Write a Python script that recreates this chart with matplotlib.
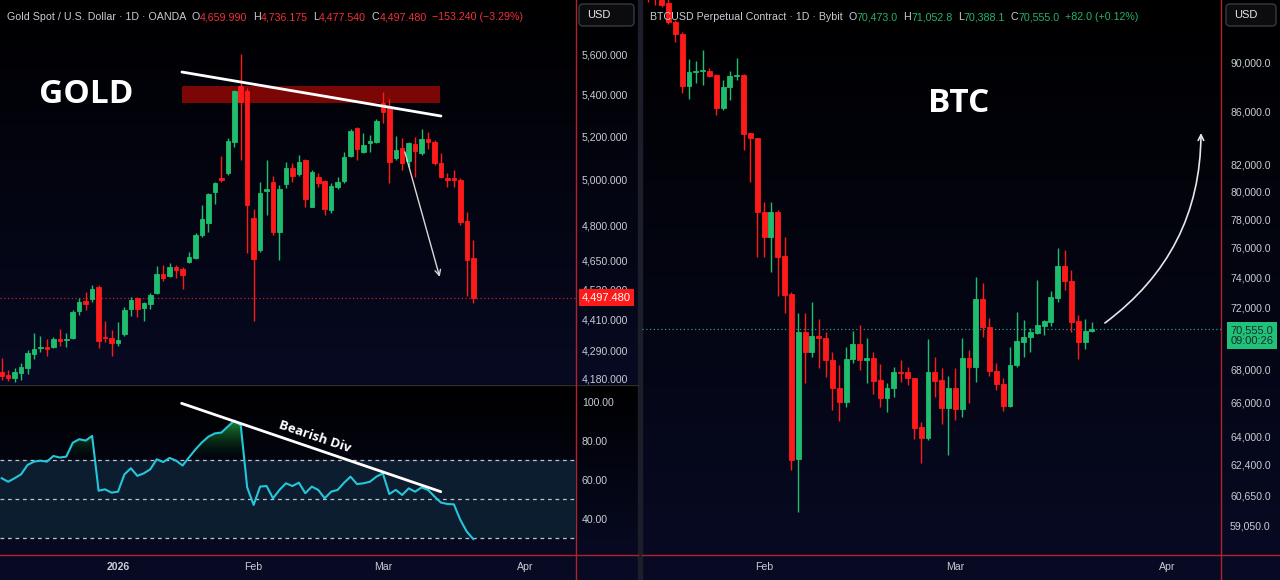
import numpy as np
import matplotlib.pyplot as plt
from matplotlib.colors import to_rgb, LinearSegmentedColormap
from matplotlib.patches import Rectangle, FancyBboxPatch
from matplotlib.path import Path
from matplotlib.transforms import blended_transform_factory
from matplotlib.ticker import NullLocator

plt.rcParams['font.family'] = ['Liberation Sans', 'DejaVu Sans']

# ---------------- data ----------------
# gold, daily bars (weekdays), index 0 = first visible bar
gold_open = [4205, 4194, 4185, 4204, 4223, 4276, 4298, 4303, 4300, 4334,
             4330, 4336, 4444, 4484, 4493, 4540, 4342, 4338, 4319, 4351,
             4451, 4495, 4456, 4471, 4517, 4594, 4586, 4622, 4616, 4642,
             4662, 4757, 4810, 4947, 5010, 5030, 5175, 5440, 5416, 4831,
             4694, 4952, 4990, 4773, 4982, 5053, 5027, 5091, 4881, 5015,
             4996, 4866, 4967, 4996, 5109, 5238, 5129, 5171, 5175, 5360,
             5341, 5099, 5148, 5088, 5165, 5122, 5186, 5174, 5076, 5010,
             5010, 5000, 4820, 4659.99]
gold_high = [4259, 4214, 4220, 4239, 4290, 4356, 4346, 4332, 4340, 4372,
             4355, 4448, 4495, 4521, 4549, 4549, 4405, 4368, 4399, 4461,
             4501, 4501, 4481, 4515, 4627, 4632, 4638, 4632, 4622, 4687,
             4766, 4889, 4940, 4990, 5111, 5191, 5421, 5600, 5431, 4873,
             4992, 5091, 5018, 4977, 5083, 5076, 5114, 5094, 5045, 5030,
             5000, 4985, 5015, 5129, 5236, 5246, 5215, 5207, 5282, 5413,
             5376, 5202, 5194, 5175, 5196, 5234, 5222, 5183, 5122, 5033,
             5045, 5008, 4859, 4736.175]
gold_low = [4176, 4172, 4169, 4176, 4199, 4255, 4283, 4268, 4297, 4307,
            4303, 4332, 4428, 4447, 4481, 4297, 4320, 4268, 4306, 4346,
            4425, 4421, 4405, 4452, 4512, 4565, 4583, 4576, 4532, 4638,
            4657, 4749, 4773, 4895, 4992, 5023, 5152, 5091, 4680, 4402,
            4687, 4845, 4759, 4652, 4963, 4992, 5018, 4881, 4878, 4967,
            4845, 4852, 4958, 4985, 5106, 5091, 5122, 5129, 5168, 5261,
            4987, 5091, 5045, 5060, 5015, 5114, 5142, 5068, 5008, 4967,
            4970, 4802, 4502, 4477.54]
gold_close = [4191, 4184, 4205, 4224, 4277, 4294, 4302, 4295, 4333, 4326,
              4334, 4440, 4480, 4473, 4531, 4325, 4336, 4319, 4329, 4447,
              4489, 4451, 4475, 4507, 4594, 4579, 4625, 4612, 4591, 4666,
              4760, 4827, 4936, 4985, 5000, 5180, 5416, 5365, 4888, 4655,
              4943, 4959, 4773, 4959, 5053, 5018, 5080, 4915, 5037, 4988,
              4869, 4973, 4991, 5103, 5227, 5140, 5162, 5180, 5274, 5317,
              5083, 5137, 5076, 5168, 5132, 5186, 5172, 5076, 5012, 5000,
              5000, 4813, 4650.72, 4497.48]
gold_rsi = [60.9, 59.1, 60.9, 62.9, 67.7, 69.4, 69.9, 69.4, 72.3, 71.5,
            72.0, 79.1, 80.9, 80.2, 82.6, 54.5, 55.2, 53.5, 54.0, 62.9,
            66.0, 62.1, 63.4, 65.5, 70.6, 69.2, 71.3, 69.9, 67.4, 71.6,
            75.7, 79.3, 82.2, 83.9, 84.3, 87.4, 90.4, 88.2, 56.2, 47.2,
            56.6, 56.9, 50.6, 54.9, 58.3, 56.9, 58.6, 53.2, 56.6, 54.9,
            50.6, 54.0, 54.9, 58.6, 61.7, 57.9, 58.3, 59.1, 61.7, 63.4,
            52.8, 54.9, 52.3, 55.7, 54.0, 56.2, 54.9, 51.5, 48.4, 47.7,
            47.5, 39.5, 33.5, 29.7]
gold_ticks = [5600, 5400, 5200, 5000, 4800, 4650, 4530, 4410, 4290, 4180]
rsi_ticks = [100, 80, 60, 40]
gold_month_labels = ['2026', 'Feb', 'Mar', 'Apr']
gold_month_pos = [18, 39, 59, 81]

# BTC perpetual, daily bars, index 0 = first visible bar
btc_open = [97500, 96000, 95500, 95000, 93363, 92300, 88055, 89185, 89240, 89290,
            88915, 86330, 88000, 88835, 88965, 84340, 83960, 78540, 76730, 78540,
            75440, 72850, 62690, 70410, 69140, 70136, 69990, 68617, 66890, 66064,
            68660, 69630, 68617, 68760, 67379, 66303, 66870, 67890, 67850, 67480,
            64540, 63930, 67850, 67379, 65700, 66910, 65605, 68720, 68160, 72540,
            70735, 67950, 67110, 65805, 68306, 69775, 70055, 70330, 70780, 71055,
            72630, 74770, 73760, 71100, 69770, 70473.0]
btc_high = [98500, 96500, 95800, 95300, 93507, 92518, 90220, 90106, 90988, 89485,
            89020, 88538, 89265, 90300, 89050, 84390, 84010, 79250, 79250, 78660,
            76770, 73010, 71600, 71600, 72340, 71210, 70410, 69140, 68306, 69460,
            70460, 70840, 69990, 69100, 68370, 67178, 68160, 68617, 68160, 67520,
            64870, 69927, 68787, 68100, 67625, 68100, 69990, 69250, 74030, 73570,
            71280, 68410, 67480, 69460, 71665, 71166, 70630, 73804, 71166, 73070,
            75950, 75860, 74478, 71490, 71210, 71052.8]
btc_low = [95050, 94790, 94600, 93168, 91680, 87520, 86995, 88270, 88140, 88755,
           85760, 86152, 86940, 88538, 83072, 80710, 75372, 75372, 74350, 72750,
           71600, 62081, 59770, 67178, 68787, 68100, 67585, 65565, 64930, 65725,
           68410, 67996, 67178, 66527, 65725, 65430, 66365, 67275, 67070, 63840,
           62479, 63799, 66365, 64735, 62935, 64971, 65165, 66000, 67275, 70055,
           67625, 66769, 65505, 65725, 68200, 68830, 69150, 70250, 70200, 70780,
           72340, 73135, 70410, 68660, 69295, 70388.1]
btc_close = [96000, 95500, 94790, 93363, 92300, 88055, 89210, 89290, 89347, 88860,
             86285, 88000, 88880, 88965, 84290, 83960, 78490, 76730, 78540, 75390,
             72780, 62649, 70410, 69140, 70136, 69990, 68617, 66870, 66064, 68680,
             69630, 68617, 68720, 67335, 66303, 66910, 67890, 67790, 67480, 64517,
             63930, 67850, 67335, 65700, 66910, 65605, 68720, 68160, 72540, 70695,
             67950, 67110, 65805, 68306, 69820, 70095, 70410, 70840, 71120, 72670,
             74770, 73760, 71055, 69770, 70473.0, 70555.0]
btc_ticks = [90000, 86000, 82000, 80000, 78000, 76000, 74000, 72000,
             68000, 66000, 64000, 62400, 60650, 59050]
btc_month_labels = ['Feb', 'Mar', 'Apr']
btc_month_pos = [17, 45, 76]
btc_timer = '09:00:26'

# ---------------- style ----------------
GREEN = '#1ebe6e'
RED = '#ff1a1a'
TXT = '#c9ccd4'
HDR_RED = '#f0303a'
HDR_GREEN = '#26b36b'
NAVY = '#070a22'
SEP_RED = '#b0232c'
GRID = '#2a2e39'
FS = 7.6     # axis labels
FS_H = 7.7   # header line

W, H = 1280, 580
fig = plt.figure(figsize=(12.8, 5.8), dpi=100, facecolor='black')


def rect(x0, y0, x1, y1):
    return [x0 / W, 1 - y1 / H, (x1 - x0) / W, (y1 - y0) / H]


# background layer in pixel coordinates
ax_bg = fig.add_axes([0, 0, 1, 1])
ax_bg.axis('off')


def vgrad(x0, x1, y0, y1, c_top, c_bot):
    cols = np.linspace(to_rgb(c_top), to_rgb(c_bot), 256)[:, None, :]
    ax_bg.imshow(cols, extent=[x0, x1, y1, y0], aspect='auto',
                 interpolation='bilinear', zorder=0)


vgrad(0, 638, 0, 384, '#000000', NAVY)
vgrad(0, 638, 385, 554, '#000000', NAVY)
vgrad(642, 1280, 0, 554, '#000000', NAVY)
ax_bg.add_patch(Rectangle((0, 554), 638, 26, color=NAVY, zorder=0))
ax_bg.add_patch(Rectangle((642, 554), 638, 26, color=NAVY, zorder=0))
ax_bg.add_patch(Rectangle((638, 0), 4, 580, color='#1c1f29', zorder=1))
ax_bg.plot([0, 638], [384.5, 384.5], color=GRID, lw=1, zorder=2)
for xs in ([0, 638], [642, 1280]):
    ax_bg.plot(xs, [554.5, 554.5], color=SEP_RED, lw=1, zorder=2)
ax_bg.plot([575.5, 575.5], [0, 580], color=SEP_RED, lw=1, zorder=2)
ax_bg.plot([1221, 1221], [0, 580], color=SEP_RED, lw=1, zorder=2)
for bx, bw in ((579, 55), (1226, 50)):
    ax_bg.add_patch(FancyBboxPatch((bx, 4), bw, 22, boxstyle='round,pad=0,rounding_size=4',
                                   fc='#0c0c0f', ec='#363a45', lw=1, zorder=3))
    ax_bg.text(bx + 8, 15.5, 'USD', color='#e6e8ee', fontsize=FS + 0.4, va='center',
               ha='left', zorder=4)
ax_bg.set_xlim(0, W)
ax_bg.set_ylim(H, 0)


def candles(ax, o, h, l, c, width):
    o, h, l, c = (np.asarray(a, float) for a in (o, h, l, c))
    x = np.arange(len(o))
    col = np.where(c >= o, GREEN, RED)
    ax.vlines(x, l, h, colors=col, lw=1, zorder=3)
    ax.bar(x, c - o, bottom=o, width=width, color=col, edgecolor=col, lw=0.6, zorder=4)


def style_axes(ax):
    ax.patch.set_visible(False)
    for s in ax.spines.values():
        s.set_visible(False)
    ax.yaxis.tick_right()
    ax.yaxis.set_minor_locator(NullLocator())
    ax.tick_params(axis='both', length=0, labelsize=FS, colors=TXT)


def header(ax, x, y, parts):
    prev = ax.text(x, y, parts[0][0], color=parts[0][1], fontsize=FS_H, transform=ax.transAxes,
                   va='center', ha='left', zorder=10)
    for s, c, gap in parts[1:]:
        prev = ax.annotate(s, xy=(1, 0.5), xycoords=prev, xytext=(gap, 0),
                           textcoords='offset points', va='center', ha='left',
                           color=c, fontsize=FS_H, zorder=10, annotation_clip=False)


def signed(v, fmt):
    return format(v, '+' + fmt).replace('-', '\u2212')


# ---------------- gold price pane ----------------
ax_g = fig.add_axes(rect(0, 0, 576, 384))
ax_r = fig.add_axes(rect(0, 385, 576, 554), sharex=ax_g)
style_axes(ax_g)
style_axes(ax_r)

candles(ax_g, gold_open, gold_high, gold_low, gold_close, 0.7)
ax_g.set_yscale('log')
ax_g.set_ylim(4161, 5879)
ax_g.set_yticks(gold_ticks)
ax_g.set_yticklabels([f'{v:,.3f}' for v in gold_ticks])
ax_g.yaxis.set_minor_locator(NullLocator())
ax_g.tick_params(axis='y', pad=4.3)
ax_g.tick_params(axis='x', labelbottom=False)
ax_g.set_xlim(-0.263, 88.9)

# resistance zone, trend line and target arrow
ax_g.add_patch(Rectangle((27.9, 5358), 39.9, 82, fc='#7a0606', ec='none', zorder=1))
ax_g.plot([27.9, 68.0], [5510, 5296], color='white', lw=2, zorder=5, solid_capstyle='round')
ax_g.annotate('', xy=(67.8, 4582), xytext=(62.4, 5128),
              arrowprops=dict(arrowstyle='->', color='#d8d8d8', lw=1, shrinkA=0, shrinkB=0), zorder=5)
ax_g.text(0.149, 0.753, 'GOLD', transform=ax_g.transAxes, fontsize=24, fontweight='bold',
          family=['Open Sans', 'DejaVu Sans'], color='white', ha='center', va='center', zorder=6)

g_last = gold_close[-1]
ax_g.axhline(g_last, color='#d01c1c', lw=0.9, ls=(0, (1, 2)), zorder=2)
bt = blended_transform_factory(ax_g.transAxes, ax_g.transData)
ax_g.text(1.0104, g_last, f'{g_last:,.3f}', transform=bt, color='white', fontsize=FS + 0.4,
          va='center', ha='left', clip_on=False, zorder=10,
          bbox=dict(boxstyle='square,pad=0.3', fc=RED, ec='none'))

g_chg = gold_close[-1] - gold_close[-2]
header(ax_g, 7 / 576, 1 - 17 / 384, [
    ('Gold Spot / U.S. Dollar \u00b7 1D \u00b7 OANDA', TXT, 0),
    ('O', TXT, 4), (f'{gold_open[-1]:,.3f}', HDR_RED, 0),
    ('H', TXT, 4), (f'{gold_high[-1]:,.3f}', HDR_RED, 0),
    ('L', TXT, 4), (f'{gold_low[-1]:,.3f}', HDR_RED, 0),
    ('C', TXT, 4), (f'{gold_close[-1]:,.3f}', HDR_RED, 0),
    (f'{signed(g_chg, ",.3f")} ({signed(100 * g_chg / gold_close[-2], ".2f")}%)', HDR_RED, 4),
])

# ---------------- gold RSI pane ----------------
x_g = np.arange(len(gold_rsi))
rsi = np.asarray(gold_rsi)
ax_r.set_ylim(22.05, 108.7)
ax_r.axhspan(30, 70, color='#0b1d2f', zorder=0, lw=0)
for lvl in (70, 50, 30):
    ax_r.axhline(lvl, color='#bfc3cc', lw=0.9, ls=(0, (3, 3)), zorder=2)
fb = ax_r.fill_between(x_g, rsi, 70, where=rsi > 70, interpolate=True, color='none', lw=0)
clip = Path.make_compound_path(*fb.get_paths())
ob_cmap = LinearSegmentedColormap.from_list('ob', [(0.02, 0.14, 0.06, 0.0), (0.12, 0.58, 0.24, 1.0)])
im = ax_r.imshow(np.linspace(0, 1, 256).reshape(-1, 1), extent=[0, len(rsi) - 1, 70, 91],
                 origin='lower', aspect='auto', cmap=ob_cmap, zorder=1)
im.set_clip_path(clip, ax_r.transData)
ax_r.plot(x_g, rsi, color='#26c6da', lw=1.5, zorder=3)
ax_r.plot([27.85, 67.97], [99.3, 54.0], color='white', lw=2, zorder=4, solid_capstyle='round')
ax_r.text(48.4, 82, 'Bearish Div', rotation=-18.8, rotation_mode='anchor', fontsize=9.5,
          fontweight='bold', family=['Open Sans', 'DejaVu Sans'], color='white',
          ha='center', va='center', zorder=5)
ax_r.set_yticks(rsi_ticks)
ax_r.set_yticklabels([f'{v:.2f}' for v in rsi_ticks])
ax_r.tick_params(axis='y', pad=4.3)
ax_r.set_xticks(gold_month_pos)
ax_r.set_xticklabels(gold_month_labels)
ax_r.tick_params(axis='x', pad=5.5)
ax_r.get_xticklabels()[0].set_fontweight('bold')
ax_r.set_xlim(-0.263, 88.9)
ax_r.set_ylim(22.05, 108.7)

# ---------------- BTC pane ----------------
ax_b = fig.add_axes(rect(642, 0, 1221, 554))
style_axes(ax_b)
candles(ax_b, btc_open, btc_high, btc_low, btc_close, 0.72)
ax_b.set_yscale('log')
ax_b.set_ylim(57512, 95225)
ax_b.set_yticks(btc_ticks)
ax_b.set_yticklabels([f'{v:,.1f}' for v in btc_ticks])
ax_b.yaxis.set_minor_locator(NullLocator())
ax_b.tick_params(axis='y', pad=6.5)
ax_b.set_xticks(btc_month_pos)
ax_b.set_xticklabels(btc_month_labels)
ax_b.tick_params(axis='x', pad=5.5)
ax_b.set_xlim(-0.878, 83.9)

b_last = btc_close[-1]
ax_b.axhline(b_last, color='#23a07a', lw=0.9, ls=(0, (1, 2)), zorder=2)
bt_b = blended_transform_factory(ax_b.transAxes, ax_b.transData)
ax_b.annotate(f'{b_last:,.1f}\n{btc_timer}', xy=(1.0, b_last), xycoords=bt_b,
              xytext=(7.0, -4.5), textcoords='offset points', color='#1d2b25', fontsize=FS + 0.4,
              va='center', ha='left', linespacing=1.05, annotation_clip=False, zorder=10,
              bbox=dict(boxstyle='square,pad=0.3', fc='#1fc27a', ec='none'))

ax_b.annotate('', xy=(80.97, 84368), xytext=(66.9, 70970),
              arrowprops=dict(arrowstyle='->', color='#e6e6e6', lw=1.2, shrinkA=0, shrinkB=0,
                              connectionstyle='arc3,rad=0.25'), zorder=5)
ax_b.text((959 - 642) / 579, (554 - 103) / 554, 'BTC', transform=ax_b.transAxes, fontsize=24,
          fontweight='bold', family=['Open Sans', 'DejaVu Sans'], color='white',
          ha='center', va='center', zorder=6)

b_chg = btc_close[-1] - btc_close[-2]
header(ax_b, 8 / 579, 1 - 17 / 554, [
    ('BTCUSD Perpetual Contract \u00b7 1D \u00b7 Bybit', TXT, 0),
    ('O', TXT, 4), (f'{btc_open[-1]:,.1f}', HDR_GREEN, 0),
    ('H', TXT, 4), (f'{btc_high[-1]:,.1f}', HDR_GREEN, 0),
    ('L', TXT, 4), (f'{btc_low[-1]:,.1f}', HDR_GREEN, 0),
    ('C', TXT, 4), (f'{btc_close[-1]:,.1f}', HDR_GREEN, 0),
    (f'{signed(b_chg, ",.1f")} ({signed(100 * b_chg / btc_close[-2], ".2f")}%)', HDR_GREEN, 4),
])

fig.savefig('out.png', dpi=100, facecolor='black')
